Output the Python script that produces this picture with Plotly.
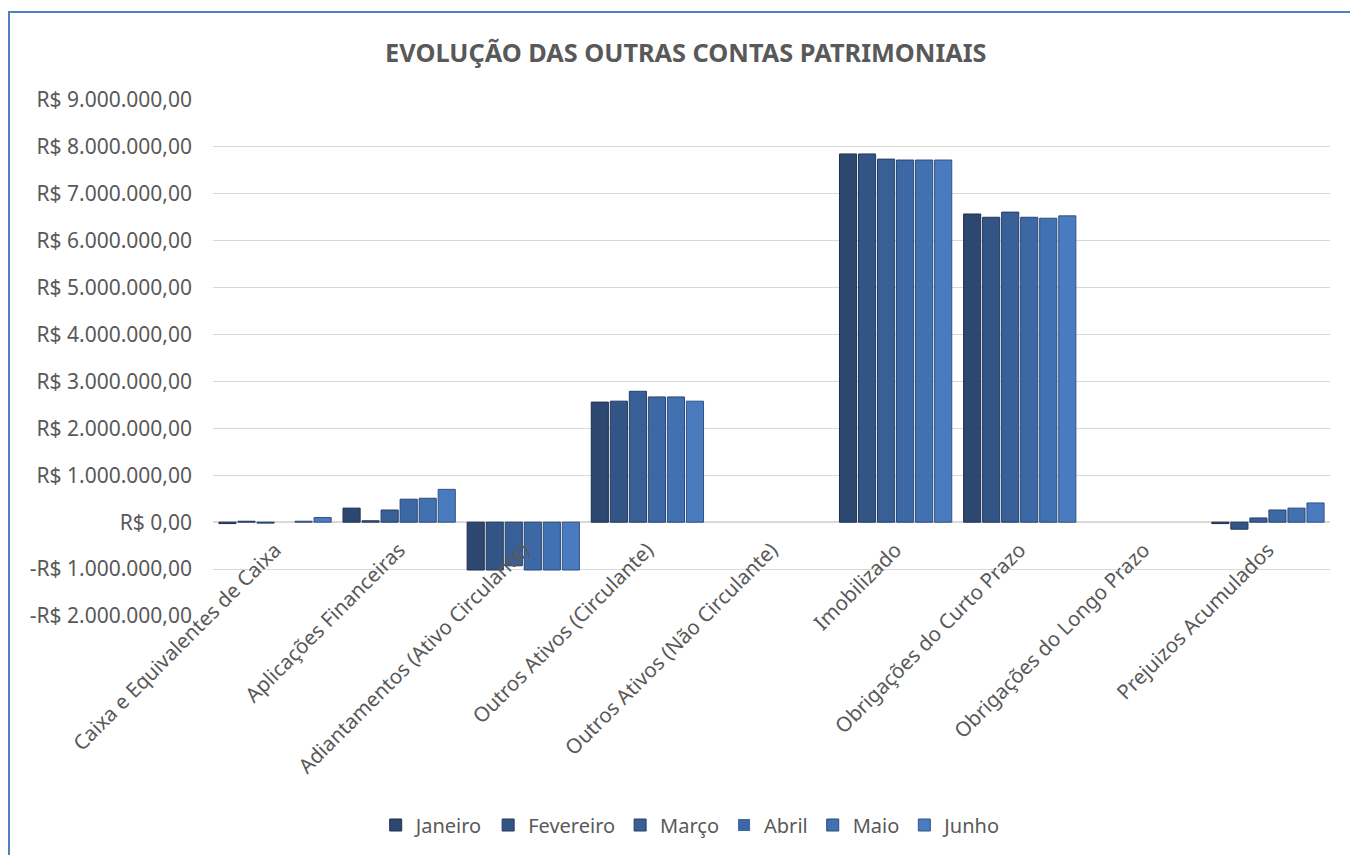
import plotly.graph_objects as go

categories = [
    "Caixa e Equivalentes de Caixa",
    "Aplicações Financeiras",
    "Adiantamentos (Ativo Circulante)",
    "Outros Ativos (Circulante)",
    "Outros Ativos (Não Circulante)",
    "Imobilizado",
    "Obrigações do Curto Prazo",
    "Obrigações do Longo Prazo",
    "Prejuizos Acumulados",
]

months = ["Janeiro", "Fevereiro", "Março", "Abril", "Maio", "Junho"]

janeiro = [-30000, 300000, -1020000, 2560000, 0, 7850000, 6570000, 0, -30000]
fevereiro = [20000, 30000, -1020000, 2580000, 0, 7850000, 6500000, 0, -150000]
marco = [-20000, 260000, -930000, 2790000, 0, 7740000, 6610000, 0, 90000]
abril = [0, 490000, -1020000, 2670000, 0, 7720000, 6500000, 0, 260000]
maio = [20000, 510000, -1020000, 2670000, 0, 7720000, 6480000, 0, 300000]
junho = [100000, 700000, -1020000, 2580000, 0, 7720000, 6530000, 0, 410000]

series = [janeiro, fevereiro, marco, abril, maio, junho]

tick_values = [-2000000, -1000000, 0, 1000000, 2000000, 3000000, 4000000,
               5000000, 6000000, 7000000, 8000000, 9000000]
tick_labels = ["-R$ 2.000.000,00", "-R$ 1.000.000,00", "R$ 0,00",
               "R$ 1.000.000,00", "R$ 2.000.000,00", "R$ 3.000.000,00",
               "R$ 4.000.000,00", "R$ 5.000.000,00", "R$ 6.000.000,00",
               "R$ 7.000.000,00", "R$ 8.000.000,00", "R$ 9.000.000,00"]

colors = ["#2D4870", "#335586", "#386097", "#3C69A5", "#4171B1", "#4A7BBF"]
edge_colors = ["#1E3150", "#22395D", "#253F69", "#294573", "#2C4B7C", "#305286"]

FONT = "Noto Sans"
GRAY = "#595959"

L, R, T, B = 213, 1330, 100, 616
W, H = 1350, 855

fig = go.Figure()
for name, vals, c, ec in zip(months, series, colors, edge_colors):
    fig.add_trace(go.Bar(
        name=name, x=categories, y=vals,
        marker=dict(color=c, line=dict(color=ec,
                                       width=[1 if v != 0 else 0 for v in vals])),
    ))

fig.update_layout(
    width=W, height=H,
    paper_bgcolor="white", plot_bgcolor="white",
    margin=dict(l=L, r=W - R, t=T, b=H - B, autoexpand=False),
    barmode="group", bargap=0.08, bargroupgap=0.1,
    title=dict(text="<b>EVOLUÇÃO DAS OUTRAS CONTAS PATRIMONIAIS</b>",
               x=0.508, xref="container", y=1 - 53 / H, yref="container",
               xanchor="center", yanchor="middle",
               font=dict(family=FONT, size=25.3, color=GRAY)),
    legend=dict(orientation="h", x=0.512, xref="container", xanchor="center",
                y=1 - 825 / H, yref="container", yanchor="middle",
                font=dict(family=FONT, size=20, color=GRAY),
                itemwidth=30, tracegroupgap=0),
    font=dict(family=FONT, color=GRAY),
    showlegend=True,
)

fig.update_yaxes(
    range=[-2000000, 9000000], domain=[0, 1], automargin=False,
    tickvals=tick_values, ticktext=tick_labels,
    showgrid=True, gridcolor="#D9D9D9", gridwidth=1.3,
    zeroline=True, zerolinecolor="#D9D9D9", zerolinewidth=1.5,
    showline=False, ticks="",
    tickfont=dict(family=FONT, size=21, color=GRAY),
    ticklabelstandoff=20,
)
fig.update_xaxes(
    tickangle=-45, showline=False, ticks="", showgrid=False,
    automargin=False, anchor="free", position=(B - 522) / (B - T),
    tickfont=dict(family=FONT, size=20.5, color=GRAY),
    ticklabelstandoff=11,
)

# chart border (right and bottom edges lie outside the visible canvas)
fig.add_shape(type="rect", xref="paper", yref="paper",
              x0=(9 - L) / (R - L), x1=(1356 - L) / (R - L),
              y0=(B - 862) / (B - T), y1=(B - 12) / (B - T),
              line=dict(color="#4F81BD", width=2), fillcolor="rgba(0,0,0,0)",
              layer="below")

fig.write_html("out.html", config={"displayModeBar": False},
               post_script="document.body.style.margin='0';document.body.style.padding='0';")
